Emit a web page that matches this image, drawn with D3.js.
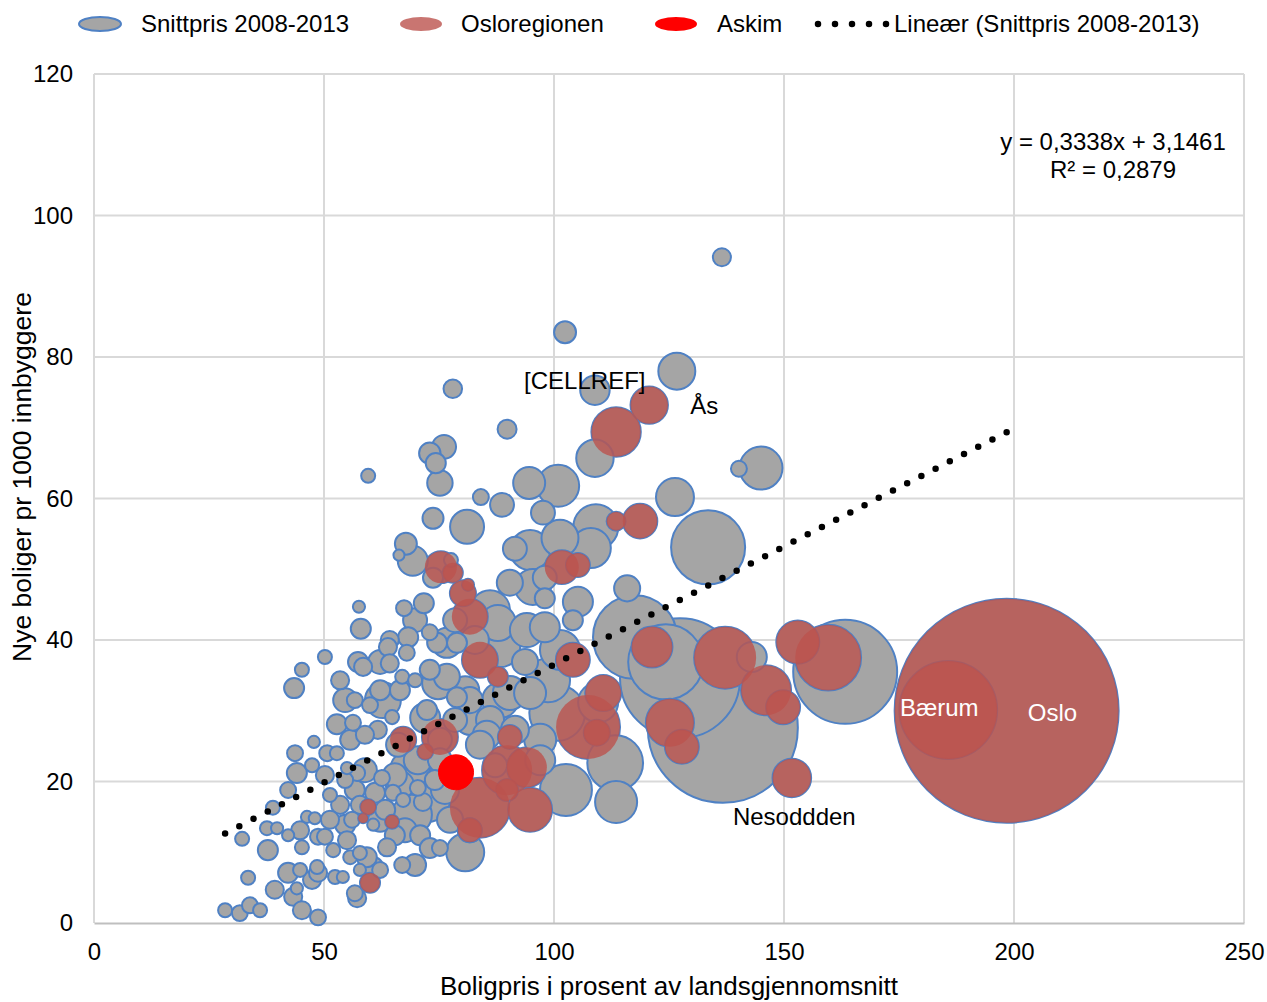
<!DOCTYPE html>
<html><head><meta charset="utf-8">
<script src="https://cdn.jsdelivr.net/npm/d3@7"></script>
<style>
body{margin:0;background:#fff}
svg{display:block}
text{font-family:"Liberation Sans",Arial,sans-serif;fill:#000}
</style>
</head><body>
<svg id="chart" width="1267" height="1002"></svg>
<script>
// ---- DATA ----
// Snittpris 2008-2013 (municipalities outside Osloregionen): price % of national avg, new dwellings per 1000, population (thousands)
const snittX = [136.5,102.4,126.7,108.9,108.9,145.0,140.2,100.9,126.3,133.5,109.1,101.3,108.0,89.8,78.0,76.1,73.0,74.3,75.2,59.6,73.7,81.1,84.1,88.7,94.6,97.6,67.8,66.3,69.3,77.6,91.5,94.8,57.6,58.0,57.4,58.5,56.7,50.2,45.2,43.5,47.8,43.7,52.8,56.3,55.7,61.7,64.8,50.7,52.8,55.0,67.4,71.7,64.3,68.3,73.0,76.7,63.9,64.3,67.0,69.8,68.0,73.0,76.7,62.8,66.5,72.4,78.9,73.7,74.6,78.9,81.7,78.5,86.1,85.4,91.5,97.0,75.2,70.4,66.1,65.4,61.1,65.0,67.2,70.4,71.5,62.6,57.2,69.1,69.8,67.0,63.7,67.6,70.9,75.2,77.4,81.7,80.7,74.1,28.5,31.7,33.9,36.1,33.5,32.2,38.9,37.8,37.6,39.8,39.3,43.3,44.1,42.2,44.8,47.4,48.5,45.2,48.7,42.2,44.1,42.2,44.8,46.3,48.0,45.2,48.7,50.2,52.0,48.7,52.4,56.7,57.2,54.1,57.8,55.7,57.8,55.0,60.7,62.2,60.7,53.5,51.3,56.7,54.6,56.1,59.3,50.2,47.4,58.9,60.0,62.2,127.4,124.3,136.7,163.3,143.0,113.5,113.3,115.9,117.6,105.2,104.1,101.3,98.7,100.7,102.6,90.4,88.3,87.8,94.1,86.1,95.4,90.4,98.0,109.6,74.8,
  72.0,68.7,72.6,66.5,76.3,75.2,81.7,83.9,88.3,80.7,78.5,82.8,69.8,62.2,54.6,53.5,58.9,62.2,65.4,54.6,51.3,97.0,98.0,94.8,93.7,98.0,87.2,73.0,57.8,63.3];
const snittY = [94.1,83.5,78.0,75.3,65.7,64.3,64.2,61.8,60.2,53.1,56.0,54.4,53.0,69.8,75.5,67.3,66.4,65.0,62.2,63.2,57.2,56.0,60.2,59.1,62.2,58.0,53.6,52.0,51.2,51.3,52.9,52.7,44.7,41.6,36.9,36.2,31.5,37.6,35.8,33.2,25.6,24.0,28.1,28.3,25.9,27.3,29.1,24.0,24.0,21.9,44.5,45.2,40.0,40.4,41.1,39.6,39.0,36.7,34.8,34.3,38.2,35.8,34.8,31.5,32.9,30.1,31.9,48.8,39.6,39.6,31.5,28.7,28.7,26.6,27.3,23.0,25.9,23.0,25.2,20.9,18.4,18.4,17.4,19.1,17.1,20.5,21.2,15.3,8.2,8.2,10.7,13.1,12.4,10.6,14.6,13.1,10.0,20.2,1.8,1.4,2.5,1.8,6.4,11.9,16.3,10.3,13.4,13.4,4.7,3.7,4.9,7.1,7.5,6.1,7.9,1.8,0.8,18.8,21.2,12.4,13.1,15.0,14.8,10.7,12.2,12.2,10.3,7.1,6.5,4.2,3.5,6.5,7.5,9.3,9.9,11.7,7.9,7.5,13.9,16.7,18.1,18.8,20.2,14.6,9.3,20.9,22.3,26.6,30.8,32.9,34.6,36.9,27.6,35.5,37.6,17.1,22.6,47.3,40.4,45.4,42.8,38.6,34.3,29.7,18.8,32.5,39.0,42.4,41.4,44.2,47.5,48.1,48.8,31.2,33.9,
  29.0,21.6,17.4,19.5,18.8,23.0,28.7,25.2,31.5,32.9,42.8,40.0,42.8,36.9,31.5,34.3,21.6,14.6,12.4,13.9,14.6,25.9,41.8,32.5,36.9,45.9,22.3,10.6,16.7,16.0];
const snittPop = [4.0,5.9,16.7,10.6,17.1,22.6,3.1,21.6,17.6,67,24.8,16.7,19.6,4.4,4.2,7.0,5.6,4.9,7.9,2.4,5.4,14.1,3.1,7.0,12.5,7.0,5.9,1.5,11,2.4,7.0,19.6,1.8,4.9,4.9,4.0,3.1,2.4,2.4,4.9,1.8,3.1,4.9,3.1,4.9,4.0,2.4,3.1,2.4,1.8,3.1,4.9,4.0,4.9,3.1,11,4.0,4.0,2.4,2.4,3.1,4.9,8.3,15.8,4.9,4.9,4.9,4.9,4.9,4.9,8.3,7.0,9.6,9.6,9.6,11,7.0,9.6,7.0,7.0,4.9,3.1,2.4,3.1,4.0,3.1,3.1,19.6,5.9,3.1,4.0,7.0,4.9,3.1,8.3,7.0,17.6,4.9,2.4,3.1,3.1,2.4,2.4,2.4,2.4,4.9,2.4,1.8,4.0,4.0,1.8,4.9,2.4,4.0,2.4,4.0,3.1,3.1,4.9,1.8,4.0,1.8,1.8,2.4,3.1,3.1,2.4,4.0,2.4,3.1,4.0,1.8,1.8,2.4,2.4,4.0,4.9,3.1,1.8,4.0,2.4,4.9,3.1,3.1,4.9,4.0,2.4,4.0,3.1,4.9,176,69,275,132,11,21.6,38,8.3,86,11,4.9,19.6,23.7,38,33,14.1,19.6,15.8,14.1,19.6,15.8,8.3,7.0,19.6,12.5,
  11,19.6,23.7,9.6,9.6,7.0,11,9.6,15.8,9.6,7.0,9.6,7.0,7.0,7.0,4.0,7.0,7.0,4.9,4.9,4.0,12.5,11,12.5,8.3,4.9,7.0,4.9,4.0,4.9];

// Osloregionen (also part of the Snittpris series)
const osloX = [198.4,185.7,159.6,153.0,137.2,146.1,149.8,121.3,125.2,127.8,151.7,107.4,110.7,109.3,104.1,94.8,83.9,89.8,94.1,89.8,81.7,90.4,83.9,87.8,81.7,80.2,78.0,75.4,81.3,101.7,105.2,118.7,113.5,113.5,120.7,67.2,75.2,72.0,59.6,58.5,64.8,60.0];
const osloY = [30.0,30.1,37.5,39.7,37.5,32.9,30.5,39.0,28.3,24.9,20.5,27.7,32.5,26.9,37.2,16.0,16.3,21.6,22.0,18.8,13.1,26.3,37.2,34.8,43.3,46.6,49.5,50.3,47.8,50.3,50.6,56.8,56.8,69.4,73.2,25.9,26.3,24.2,16.4,14.8,14.3,5.7];
const osloPop = [613,117,53,22.6,47,30.6,14.1,20.5,28.2,14.1,18.2,50,15.8,8.3,14.1,23.7,44,30.6,19.6,5.9,7.0,7.0,15.8,4.9,15.8,8.3,4.9,12.5,1.8,14.1,7.0,14.6,4.4,29.8,17.1,8.3,15.8,3.1,3.1,1.2,2.4,4.9];

// Askim
const askimX = [78.7], askimY = [21.3], askimPop = [15];

const xTicks = [0,50,100,150,200,250];
const yTicks = [0,20,40,60,80,100,120];
const seriesNames = ["Snittpris 2008-2013","Osloregionen","Askim","Lineær (Snittpris 2008-2013)"];
const trendSlope = 0.3338, trendIntercept = 3.1461;
const eqLines = ["y = 0,3338x + 3,1461", "R² = 0,2879"];
const xTitle = "Boligpris i prosent av landsgjennomsnitt";
const yTitle = "Nye boliger pr 1000 innbyggere";
const labelTexts = ["[CELLREF]","Ås","Nesoddden","Bærum","Oslo"];
const labelX = [93.5,129.6,138.9,175.2,203.0];
const labelY = [76.6,73.2,15.0,30.4,29.7];
const labelWhite = [false,false,false,true,true];

// ---- CHART ----
const svg = d3.select("#chart");
const x = d3.scaleLinear().domain([0,250]).range([94,1244]);
const y = d3.scaleLinear().domain([0,120]).range([923,74]);
const r = d3.scaleSqrt().domain([0,613]).range([0,112]);

const GRID = "#d9d9d9";
svg.append("g").selectAll("line").data(xTicks).join("line")
  .attr("x1",d=>x(d)).attr("x2",d=>x(d)).attr("y1",y(120)).attr("y2",y(0))
  .attr("stroke",GRID).attr("stroke-width",2);
svg.append("g").selectAll("line").data(yTicks.filter(d=>d>0)).join("line")
  .attr("x1",x(0)).attr("x2",x(250)).attr("y1",d=>y(d)).attr("y2",d=>y(d))
  .attr("stroke",GRID).attr("stroke-width",2);

// axes
const xAxis = svg.append("g").attr("transform",`translate(0,${y(0)})`)
  .call(d3.axisBottom(x).tickValues(xTicks).tickSize(0).tickPadding(20).tickFormat(d3.format("d")));
xAxis.select(".domain").attr("stroke","#bfbfbf").attr("stroke-width",2);
xAxis.selectAll("text").attr("font-size",24).attr("fill","#000")
  .attr("font-family","'Liberation Sans',Arial,sans-serif");
const yAxis = svg.append("g").attr("transform",`translate(${x(0)},0)`)
  .call(d3.axisLeft(y).tickValues(yTicks).tickSize(0).tickPadding(21).tickFormat(d3.format("d")));
yAxis.select(".domain").remove();
yAxis.selectAll("text").attr("font-size",24).attr("fill","#000")
  .attr("font-family","'Liberation Sans',Arial,sans-serif");

// combine data
const grayPts = snittX.map((d,i)=>({x:d,y:snittY[i],p:snittPop[i]}))
  .concat(osloX.map((d,i)=>({x:d,y:osloY[i],p:osloPop[i]})))
  .sort((a,b)=>b.p-a.p);
const redPts = osloX.map((d,i)=>({x:d,y:osloY[i],p:osloPop[i]})).sort((a,b)=>b.p-a.p);
const askimPts = askimX.map((d,i)=>({x:d,y:askimY[i],p:askimPop[i]}));

svg.append("g").selectAll("circle").data(grayPts).join("circle")
  .attr("cx",d=>x(d.x)).attr("cy",d=>y(d.y)).attr("r",d=>r(d.p))
  .attr("fill","#a5a5a5").attr("stroke","#4f81c4").attr("stroke-width",2);
svg.append("g").selectAll("circle").data(redPts).join("circle")
  .attr("cx",d=>x(d.x)).attr("cy",d=>y(d.y)).attr("r",d=>r(d.p))
  .attr("fill","rgb(188,83,78)").attr("fill-opacity",0.8);
svg.append("g").selectAll("circle").data(askimPts).join("circle")
  .attr("cx",d=>x(d.x)).attr("cy",d=>y(d.y)).attr("r",d=>r(d.p))
  .attr("fill","#ff0000").attr("stroke","#ff0000").attr("stroke-width",1);

// trendline (dotted, dots spaced evenly so that they hit both ends)
const allX = snittX.concat(osloX, askimX);
const [xmin,xmax] = d3.extent(allX);
const tx1 = x(xmin), ty1 = y(trendSlope*xmin+trendIntercept);
const tx2 = x(xmax), ty2 = y(trendSlope*xmax+trendIntercept);
const tLen = Math.hypot(tx2-tx1, ty2-ty1);
const tGap = tLen / Math.round(tLen/16);
svg.append("line")
  .attr("x1",tx1).attr("y1",ty1).attr("x2",tx2).attr("y2",ty2)
  .attr("stroke","#000").attr("stroke-width",6.5).attr("stroke-linecap","round")
  .attr("stroke-dasharray",`0,${tGap}`);

// data labels
svg.append("g").selectAll("text").data(labelTexts).join("text")
  .attr("x",(d,i)=>x(labelX[i])).attr("y",(d,i)=>y(labelY[i]))
  .attr("dy","0.35em").attr("font-size",24)
  .style("fill",(d,i)=>labelWhite[i]?"#fff":"#000")
  .text(d=>d);

// equation
svg.append("g").selectAll("text").data(eqLines).join("text")
  .attr("x",1113).attr("y",(d,i)=>150+i*28).attr("text-anchor","middle")
  .attr("font-size",24).text(d=>d);

// axis titles
svg.append("text").attr("x",669).attr("y",995).attr("text-anchor","middle")
  .attr("font-size",26).text(xTitle);
svg.append("text").attr("transform","translate(31,477) rotate(-90)").attr("text-anchor","middle")
  .attr("font-size",26.5).text(yTitle);

// legend
const lg = svg.append("g");
const ly = 24;
lg.append("ellipse").attr("cx",100).attr("cy",ly).attr("rx",21).attr("ry",7)
  .attr("fill","#a5a5a5").attr("stroke","#4f81c4").attr("stroke-width",2);
lg.append("ellipse").attr("cx",421).attr("cy",ly).attr("rx",21).attr("ry",7)
  .attr("fill","rgb(188,83,78)").attr("fill-opacity",0.8);
lg.append("ellipse").attr("cx",676).attr("cy",ly).attr("rx",21).attr("ry",7)
  .attr("fill","#ff0000");
lg.append("line").attr("x1",818).attr("x2",887).attr("y1",ly).attr("y2",ly)
  .attr("stroke","#000").attr("stroke-width",6.5).attr("stroke-linecap","round")
  .attr("stroke-dasharray","0,17");
const lgTextX = [141,461,717,894];
lg.selectAll("text").data(seriesNames).join("text")
  .attr("x",(d,i)=>lgTextX[i]).attr("y",ly).attr("dy","0.35em")
  .attr("font-size",24).text(d=>d);
</script>
</body></html>
